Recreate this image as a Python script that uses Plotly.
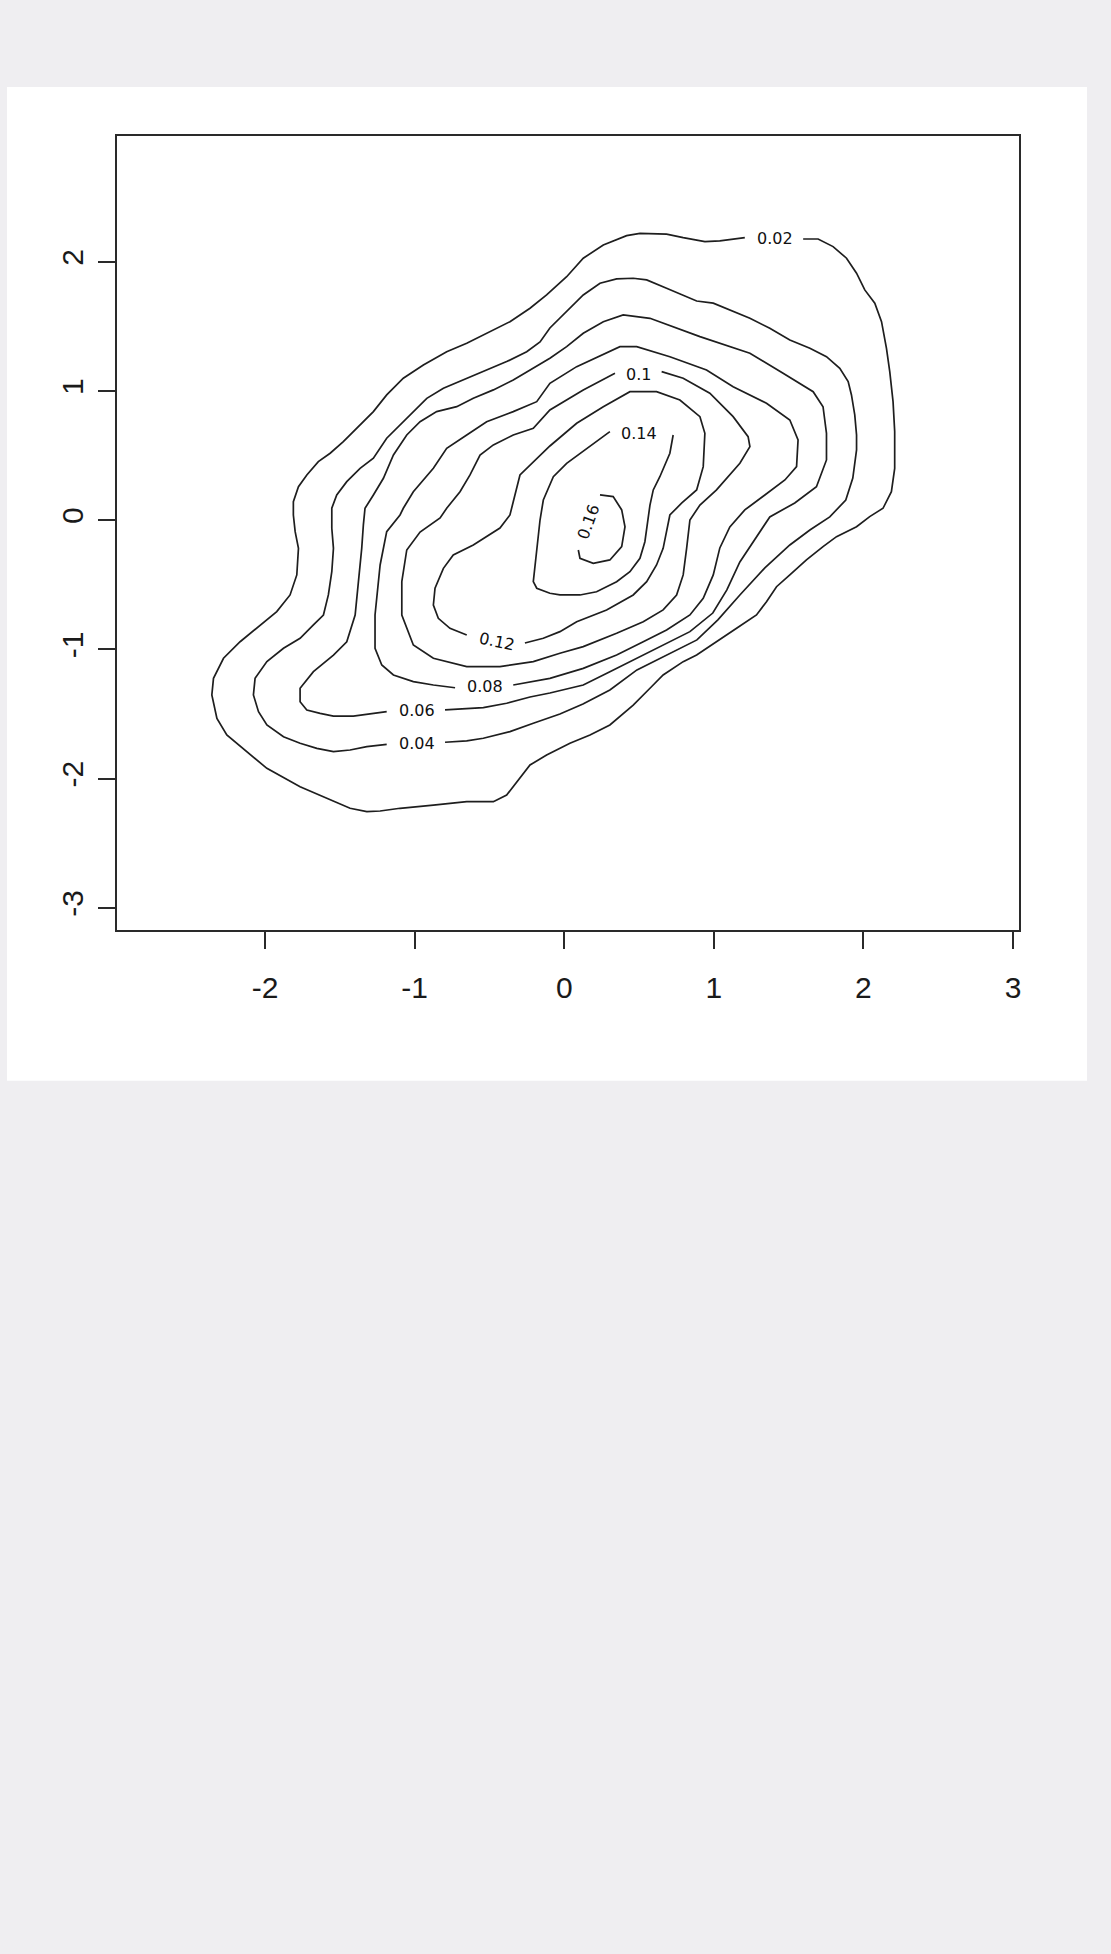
import plotly.graph_objects as go

# Contour levels of the 2-D density estimate
LEVELS = [0.02, 0.04, 0.06, 0.08, 0.1, 0.12, 0.14, 0.16]

# Each contour path (x, y), running from one side of its label gap round to the other
CONTOUR_002 = [
    (1.597, 2.177), (1.697, 2.177), (1.797, 2.118), (1.887, 2.028), (1.954, 1.912), (2.009, 1.783),
    (2.076, 1.680), (2.121, 1.537), (2.154, 1.331), (2.176, 1.150), (2.198, 0.918), (2.209, 0.686),
    (2.209, 0.402), (2.187, 0.221), (2.131, 0.093), (2.042, 0.028), (1.954, -0.050), (1.820, -0.127),
    (1.730, -0.204), (1.619, -0.307), (1.508, -0.423), (1.419, -0.514), (1.352, -0.630), (1.285, -0.733),
    (1.152, -0.836), (1.018, -0.940), (0.885, -1.043), (0.795, -1.094), (0.661, -1.197), (0.573, -1.300),
    (0.461, -1.430), (0.305, -1.584), (0.172, -1.662), (0.038, -1.726), (-0.118, -1.817), (-0.229, -1.894),
    (-0.318, -2.023), (-0.385, -2.126), (-0.474, -2.178), (-0.652, -2.178), (-0.875, -2.204), (-1.098, -2.229),
    (-1.231, -2.250), (-1.320, -2.255), (-1.432, -2.229), (-1.587, -2.152), (-1.766, -2.062), (-1.988, -1.920),
    (-2.145, -1.765), (-2.256, -1.662), (-2.322, -1.533), (-2.356, -1.352), (-2.345, -1.223), (-2.278, -1.068),
    (-2.167, -0.940), (-2.033, -0.810), (-1.922, -0.707), (-1.833, -0.578), (-1.788, -0.423), (-1.777, -0.217),
    (-1.799, -0.088), (-1.811, 0.041), (-1.811, 0.144), (-1.777, 0.260), (-1.721, 0.351), (-1.644, 0.454),
    (-1.565, 0.519), (-1.477, 0.608), (-1.387, 0.712), (-1.276, 0.841), (-1.187, 0.970), (-1.076, 1.099),
    (-0.942, 1.202), (-0.786, 1.305), (-0.652, 1.370), (-0.519, 1.447), (-0.363, 1.537), (-0.229, 1.641),
    (-0.118, 1.744), (0.016, 1.885), (0.127, 2.028), (0.261, 2.131), (0.417, 2.203), (0.506, 2.221),
    (0.684, 2.214), (0.795, 2.187), (0.940, 2.156), (1.040, 2.162), (1.207, 2.187),
]

CONTOUR_004 = [
    (-0.797, -1.718), (-0.652, -1.708), (-0.541, -1.687), (-0.363, -1.636), (-0.207, -1.571), (-0.029, -1.499),
    (0.125, -1.422), (0.305, -1.313), (0.486, -1.158), (0.659, -1.058), (0.887, -0.926), (1.027, -0.771),
    (1.174, -0.578), (1.341, -0.369), (1.508, -0.191), (1.642, -0.075), (1.775, 0.026), (1.882, 0.157),
    (1.929, 0.327), (1.954, 0.544), (1.954, 0.660), (1.942, 0.815), (1.920, 0.970), (1.898, 1.073),
    (1.842, 1.176), (1.753, 1.266), (1.642, 1.331), (1.508, 1.395), (1.374, 1.486), (1.241, 1.563),
    (1.107, 1.628), (0.996, 1.680), (0.885, 1.697), (0.795, 1.744), (0.684, 1.796), (0.551, 1.860),
    (0.461, 1.873), (0.350, 1.868), (0.239, 1.834), (0.127, 1.744), (0.016, 1.615), (-0.096, 1.488),
    (-0.162, 1.380), (-0.251, 1.305), (-0.385, 1.228), (-0.519, 1.163), (-0.652, 1.099), (-0.808, 1.022),
    (-0.919, 0.944), (-1.009, 0.841), (-1.098, 0.738), (-1.187, 0.635), (-1.276, 0.480), (-1.365, 0.402),
    (-1.454, 0.299), (-1.521, 0.196), (-1.554, 0.093), (-1.554, -0.062), (-1.543, -0.217), (-1.554, -0.398),
    (-1.577, -0.578), (-1.610, -0.733), (-1.677, -0.810), (-1.766, -0.913), (-1.877, -0.991), (-1.988, -1.094),
    (-2.067, -1.223), (-2.078, -1.352), (-2.044, -1.481), (-1.988, -1.584), (-1.877, -1.675), (-1.766, -1.726),
    (-1.654, -1.765), (-1.543, -1.791), (-1.432, -1.778), (-1.320, -1.752), (-1.187, -1.734),
]

CONTOUR_006 = [
    (-0.797, -1.468), (-0.652, -1.461), (-0.541, -1.450), (-0.385, -1.416), (-0.229, -1.368), (-0.096, -1.337),
    (0.127, -1.275), (0.305, -1.172), (0.484, -1.068), (0.661, -0.965), (0.840, -0.862), (0.993, -0.718),
    (1.087, -0.539), (1.174, -0.323), (1.274, -0.152), (1.374, 0.026), (1.541, 0.134), (1.686, 0.260),
    (1.753, 0.467), (1.753, 0.673), (1.730, 0.879), (1.664, 0.995), (1.463, 1.138), (1.241, 1.293),
    (0.907, 1.421), (0.573, 1.563), (0.394, 1.589), (0.261, 1.537), (0.127, 1.447), (0.016, 1.344),
    (-0.096, 1.254), (-0.207, 1.176), (-0.341, 1.086), (-0.474, 1.009), (-0.608, 0.944), (-0.719, 0.879),
    (-0.853, 0.841), (-0.964, 0.763), (-1.053, 0.660), (-1.142, 0.505), (-1.209, 0.325), (-1.276, 0.196),
    (-1.332, 0.093), (-1.343, -0.036), (-1.354, -0.217), (-1.376, -0.475), (-1.398, -0.733), (-1.454, -0.940),
    (-1.543, -1.043), (-1.677, -1.172), (-1.766, -1.300), (-1.766, -1.404), (-1.721, -1.468), (-1.632, -1.494),
    (-1.543, -1.515), (-1.410, -1.515), (-1.276, -1.494), (-1.187, -1.481),
]

CONTOUR_008 = [
    (-0.341, -1.275), (-0.207, -1.249), (-0.096, -1.223), (0.127, -1.146), (0.350, -1.043), (0.528, -0.940),
    (0.684, -0.849), (0.840, -0.733), (0.929, -0.604), (0.996, -0.423), (1.040, -0.214), (1.107, -0.052),
    (1.207, 0.080), (1.341, 0.196), (1.475, 0.312), (1.553, 0.415), (1.563, 0.622), (1.508, 0.776),
    (1.352, 0.906), (1.129, 1.034), (0.951, 1.163), (0.706, 1.266), (0.484, 1.344), (0.372, 1.344),
    (0.083, 1.189), (-0.096, 1.060), (-0.184, 0.918), (-0.341, 0.841), (-0.519, 0.763), (-0.652, 0.660),
    (-0.786, 0.557), (-0.875, 0.402), (-1.009, 0.221), (-1.076, 0.093), (-1.098, 0.041), (-1.187, -0.088),
    (-1.231, -0.346), (-1.265, -0.733), (-1.265, -0.991), (-1.220, -1.120), (-1.142, -1.197), (-1.009, -1.249),
    (-0.875, -1.275), (-0.730, -1.296),
]

CONTOUR_010 = [
    (0.651, 1.150), (0.795, 1.099), (0.973, 0.983), (1.129, 0.802), (1.229, 0.647), (1.241, 0.570),
    (1.174, 0.441), (1.018, 0.235), (0.907, 0.118), (0.840, 0.002), (0.818, -0.217), (0.795, -0.423),
    (0.751, -0.578), (0.661, -0.694), (0.528, -0.785), (0.350, -0.875), (0.127, -0.978), (-0.029, -1.029),
    (-0.207, -1.094), (-0.430, -1.133), (-0.652, -1.133), (-0.875, -1.068), (-1.009, -0.965), (-1.086, -0.733),
    (-1.086, -0.475), (-1.053, -0.230), (-0.964, -0.091), (-0.830, 0.018), (-0.786, 0.093), (-0.697, 0.221),
    (-0.630, 0.351), (-0.563, 0.505), (-0.474, 0.583), (-0.341, 0.660), (-0.207, 0.712), (-0.096, 0.854),
    (0.127, 1.009), (0.339, 1.138),
]

CONTOUR_012 = [
    (-0.263, -0.950), (-0.140, -0.913), (-0.029, -0.862), (0.083, -0.785), (0.283, -0.694), (0.461, -0.578),
    (0.551, -0.475), (0.617, -0.346), (0.661, -0.217), (0.684, -0.088), (0.706, 0.041), (0.786, 0.134),
    (0.885, 0.235), (0.929, 0.415), (0.940, 0.673), (0.907, 0.802), (0.773, 0.931), (0.617, 0.995),
    (0.439, 0.995), (0.261, 0.879), (0.083, 0.751), (-0.096, 0.575), (-0.207, 0.454), (-0.296, 0.351),
    (-0.341, 0.144), (-0.363, 0.041), (-0.430, -0.060), (-0.608, -0.191), (-0.742, -0.269), (-0.808, -0.372),
    (-0.864, -0.526), (-0.875, -0.656), (-0.842, -0.759), (-0.764, -0.836), (-0.652, -0.888),
]

CONTOUR_014 = [
    (0.728, 0.660), (0.706, 0.519), (0.639, 0.337), (0.595, 0.235), (0.573, 0.118), (0.561, 0.002),
    (0.539, -0.166), (0.506, -0.294), (0.439, -0.398), (0.350, -0.475), (0.216, -0.553), (0.105, -0.578),
    (-0.029, -0.578), (-0.096, -0.565), (-0.184, -0.526), (-0.207, -0.475), (-0.184, -0.217), (-0.162, 0.002),
    (-0.140, 0.157), (-0.073, 0.337), (0.016, 0.441), (0.172, 0.570), (0.305, 0.686),
]

CONTOUR_016 = [
    (0.239, 0.196), (0.327, 0.183), (0.384, 0.080), (0.406, -0.050), (0.384, -0.204), (0.305, -0.307),
    (0.194, -0.333), (0.105, -0.294), (0.094, -0.230),
]

CONTOURS = [CONTOUR_002, CONTOUR_004, CONTOUR_006, CONTOUR_008,
            CONTOUR_010, CONTOUR_012, CONTOUR_014, CONTOUR_016]

# Level labels and where they sit on their contour (data coordinates)
LABEL_TEXT = ["0.02", "0.04", "0.06", "0.08", "0.1", "0.12", "0.14", "0.16"]
LABEL_X = [1.408, -0.986, -0.986, -0.530, 0.494, -0.452, 0.501, 0.165]
LABEL_Y = [2.177, -1.726, -1.476, -1.283, 1.130, -0.940, 0.673, -0.013]
LABEL_ANGLE = [0, 0, 0, 0, 0, 12, 0, -70]

X_TICKS = [-2, -1, 0, 1, 2, 3]
Y_TICKS = [-3, -2, -1, 0, 1, 2]

LINE_COLOR = "#1e1e1e"
FONT = "Liberation Sans, Arial, Helvetica, sans-serif"
LABEL_FONT = "DejaVu Sans, Verdana, sans-serif"

fig = go.Figure()

for level, path in zip(LEVELS, CONTOURS):
    fig.add_trace(go.Scatter(
        x=[p[0] for p in path],
        y=[p[1] for p in path],
        mode="lines",
        line=dict(color=LINE_COLOR, width=1.7),
        name=str(level),
        hoverinfo="skip",
        showlegend=False,
    ))

for text, lx, ly, ang in zip(LABEL_TEXT, LABEL_X, LABEL_Y, LABEL_ANGLE):
    fig.add_annotation(
        x=lx, y=ly, xref="x", yref="y", text=text, showarrow=False,
        textangle=ang, font=dict(family=LABEL_FONT, size=16, color="#111111"),
        xanchor="center", yanchor="middle",
    )

# White figure panel sitting on the grey page
fig.add_shape(
    type="rect", xref="paper", yref="paper",
    x0=-0.122, x1=1.0754, y0=-0.190, y1=1.0617,
    fillcolor="white", line=dict(width=0), layer="below",
)

axis_common = dict(
    showgrid=False, zeroline=False,
    showline=True, mirror=True, linecolor="#2a2a2a", linewidth=1.5,
    ticks="outside", ticklen=17, tickwidth=1.5, tickcolor="#2a2a2a",
    tickfont=dict(family=FONT, size=30, color="#1a1a1a"),
)

fig.update_xaxes(range=[-2.99, 3.04], tickmode="array", tickvals=X_TICKS,
                 ticktext=[str(v) for v in X_TICKS], ticklabelstandoff=13, **axis_common)
fig.update_yaxes(range=[-3.171, 2.974], tickmode="array", tickvals=Y_TICKS,
                 ticktext=[str(v) for v in Y_TICKS], tickangle=-90, ticklabelstandoff=3, **axis_common)

fig.update_layout(
    width=1111, height=1954, autosize=False,
    margin=dict(l=117, r=92, t=136, b=1024, pad=0),
    paper_bgcolor="#efeef1", plot_bgcolor="white",
    showlegend=False,
)

fig.write_html("out.html")
